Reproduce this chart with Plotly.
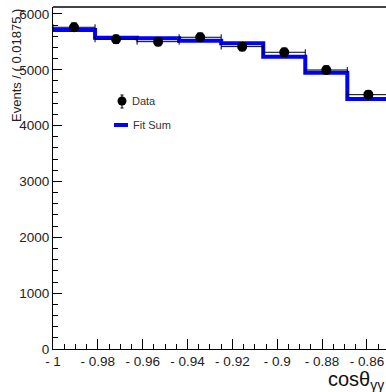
import plotly.graph_objects as go

bin_edges = [-1.0, -0.98125, -0.9625, -0.94375, -0.925, -0.90625, -0.8875, -0.86875, -0.85]
data_vals = [5762, 5547, 5504, 5583, 5415, 5314, 4997, 4555]
data_errs = [76, 74, 74, 75, 74, 73, 71, 68]
fit_vals = [5714, 5576, 5565, 5522, 5475, 5236, 4949, 4478]
legend_labels = ["Data", "Fit Sum"]
x_tickvals = [-1.0, -0.98, -0.96, -0.94, -0.92, -0.90, -0.88, -0.86]
x_ticktext = ["- 1", "- 0.98", "- 0.96", "- 0.94", "- 0.92", "- 0.9", "- 0.88", "- 0.86"]

centers = [(a + b) / 2 for a, b in zip(bin_edges[:-1], bin_edges[1:])]
halfw = [(b - a) / 2 for a, b in zip(bin_edges[:-1], bin_edges[1:])]

fig = go.Figure()

fig.add_trace(go.Scatter(
    x=bin_edges, y=fit_vals + [fit_vals[-1]], mode="lines",
    line=dict(color="#0000ff", width=4, shape="hv"),
    name="Fit Sum", showlegend=False,
))

fig.add_trace(go.Scatter(
    x=centers, y=data_vals, mode="markers",
    marker=dict(color="black", size=10),
    error_y=dict(type="data", array=data_errs, color="black", thickness=1, width=3),
    error_x=dict(type="data", array=halfw, color="black", thickness=1, width=3),
    name="Data", showlegend=False,
))

font = "Liberation Sans, Arial, sans-serif"

# plot area in pixels: x 53..386, y 7..349
L, R, T, B = 53, 386, 7, 349
def px(x):
    return (x - L) / (R - L)
def py(y):
    return (B - y) / (B - T)

shapes = [
    dict(type="line", xref="paper", yref="paper", x0=0, x1=1, y0=1, y1=1,
         line=dict(color="#444", width=2)),
    # legend: Data marker with error bar
    dict(type="line", xref="paper", yref="paper", x0=px(122), x1=px(122), y0=py(95), y1=py(108),
         line=dict(color="black", width=1)),
    dict(type="line", xref="paper", yref="paper", x0=px(120.5), x1=px(123.5), y0=py(95), y1=py(95),
         line=dict(color="black", width=1)),
    dict(type="line", xref="paper", yref="paper", x0=px(120.5), x1=px(123.5), y0=py(108), y1=py(108),
         line=dict(color="black", width=1)),
    dict(type="circle", xref="paper", yref="paper", x0=px(117.5), x1=px(126.5), y0=py(96.5), y1=py(105.5),
         fillcolor="black", line=dict(color="black", width=0)),
    # legend: Fit Sum line
    dict(type="line", xref="paper", yref="paper", x0=px(114), x1=px(128), y0=py(125), y1=py(125),
         line=dict(color="#0000ff", width=4)),
]

annotations = [
    dict(text="Events / ( 0.01875 )", textangle=-90, xref="paper", yref="paper",
         x=px(7), y=py(7), xanchor="left", yanchor="top", showarrow=False,
         font=dict(size=13, color="#222")),
    dict(text="cosθ<sub>γγ</sub>", xref="paper", yref="paper",
         x=1.0, y=py(366), xanchor="right", yanchor="top", showarrow=False,
         font=dict(size=20, color="#111")),
    dict(text=legend_labels[0], xref="paper", yref="paper", x=px(130), y=py(101),
         xanchor="left", yanchor="middle", showarrow=False, font=dict(size=11, color="#333")),
    dict(text=legend_labels[1], xref="paper", yref="paper", x=px(131), y=py(125),
         xanchor="left", yanchor="middle", showarrow=False, font=dict(size=11, color="#333")),
]

fig.update_layout(
    width=386, height=392,
    margin=dict(l=L, r=386 - R, t=T, b=392 - B, autoexpand=False),
    paper_bgcolor="white", plot_bgcolor="white",
    font=dict(family=font, size=13.5, color="#222"),
    showlegend=False,
    xaxis=dict(range=[-1.0, -0.8515], showgrid=False, zeroline=False, automargin=False,
               showline=True, linecolor="black", linewidth=1, mirror=False,
               ticks="inside", ticklen=10, tickcolor="black",
               tickmode="array", tickvals=x_tickvals, ticktext=x_ticktext,
               minor=dict(ticks="inside", ticklen=5, dtick=0.005, tick0=-1.0, tickcolor="black"),
               tickfont=dict(size=13.5, color="#222")),
    yaxis=dict(range=[0, 6125], showgrid=False, zeroline=False, automargin=False,
               showline=True, linecolor="black", linewidth=1,
               ticks="inside", ticklen=9, tickcolor="black",
               dtick=1000, tick0=0,
               minor=dict(ticks="inside", ticklen=5, dtick=200, tickcolor="black"),
               tickfont=dict(size=13.5, color="#222")),
    shapes=shapes,
    annotations=annotations,
)

fig.write_html("out.html", config={"displayModeBar": False},
               post_script="document.body.style.margin='0';document.body.style.overflow='hidden';")
